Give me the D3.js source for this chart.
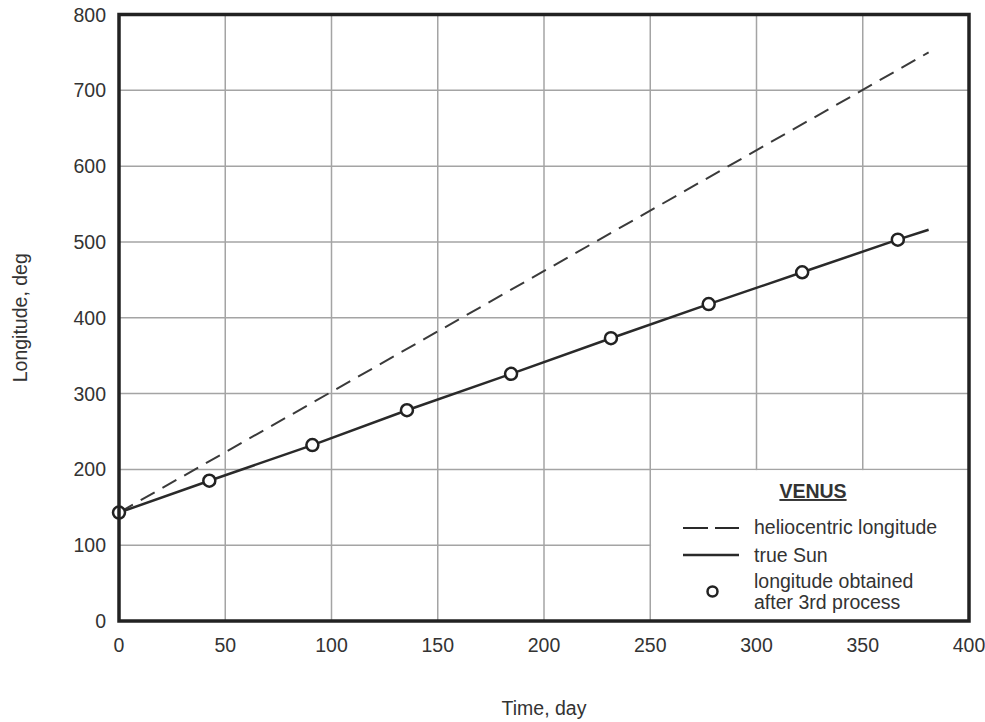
<!DOCTYPE html>
<html>
<head>
<meta charset="utf-8">
<script src="https://cdn.jsdelivr.net/npm/d3@7/dist/d3.min.js"></script>
<style>
  html, body { margin: 0; padding: 0; background: #fff; }
  svg { display: block; font-family: "Liberation Sans", Arial, sans-serif; }
</style>
</head>
<body>
<svg id="chart" width="985" height="722"></svg>
<script>
// ---- data ----
const xTicks = [0, 50, 100, 150, 200, 250, 300, 350, 400];
const yTicks = [0, 100, 200, 300, 400, 500, 600, 700, 800];

const obtainedDays = [0, 42.5, 91, 135.5, 184.5, 231.5, 277.5, 321.5, 366.5];
const obtainedLon  = [143, 185, 232, 278, 326, 373, 418, 460, 503];

const trueSunDays = [0, 42.5, 91, 135.5, 184.5, 231.5, 277.5, 321.5, 366.5, 381];
const trueSunLon  = [143, 185, 232, 278, 326, 373, 418, 460, 503, 516];

const helioDays = [0, 381];
const helioLon  = [143, 750];

const legendTitle = "VENUS";
const legendLabels = ["heliocentric longitude", "true Sun", "longitude obtained", "after 3rd process"];

(function () {
// ---- layout ----
const svg = d3.select("#chart");
const pL = 119, pR = 969, pT = 14.5, pB = 621;
const x = d3.scaleLinear().domain([0, 400]).range([pL, pR]);
const y = d3.scaleLinear().domain([0, 800]).range([pB, pT]);
const textColor = "#333";
const fs = 19.5;

// grid
const grid = svg.append("g");
grid.selectAll("line.v").data(xTicks.slice(1, -1)).join("line")
  .attr("x1", d => x(d)).attr("x2", d => x(d))
  .attr("y1", pT).attr("y2", pB)
  .attr("stroke", "#a4a4a4").attr("stroke-width", 1.5);
grid.selectAll("line.h").data(yTicks.slice(1, -1)).join("line")
  .attr("y1", d => y(d)).attr("y2", d => y(d))
  .attr("x1", pL).attr("x2", pR)
  .attr("stroke", "#a4a4a4").attr("stroke-width", 1.5);

// legend background covering grid
svg.append("rect")
  .attr("x", x(250) + 0.8).attr("y", y(200) + 0.8)
  .attr("width", x(400) - x(250)).attr("height", y(0) - y(200))
  .attr("fill", "#fff");

// lines
const line = d3.line().x(d => x(d[0])).y(d => y(d[1]));
svg.append("path")
  .datum(helioDays.map((d, i) => [d, helioLon[i]]))
  .attr("d", line).attr("fill", "none")
  .attr("stroke", "#3a3a3a").attr("stroke-width", 2)
  .attr("stroke-dasharray", "16,9");
svg.append("path")
  .datum(trueSunDays.map((d, i) => [d, trueSunLon[i]]))
  .attr("d", line).attr("fill", "none")
  .attr("stroke", "#2a2a2a").attr("stroke-width", 2.5);

// points
svg.selectAll("circle.pt").data(obtainedDays.map((d, i) => [d, obtainedLon[i]])).join("circle")
  .attr("cx", d => x(d[0])).attr("cy", d => y(d[1])).attr("r", 6)
  .attr("fill", "#fff").attr("stroke", "#222").attr("stroke-width", 2.5);

// frame
svg.append("rect")
  .attr("x", pL).attr("y", pT)
  .attr("width", pR - pL).attr("height", pB - pT)
  .attr("fill", "none").attr("stroke", "#222").attr("stroke-width", 3.5);

// tick labels
svg.selectAll("text.xt").data(xTicks).join("text")
  .attr("x", d => x(d)).attr("y", 652)
  .attr("text-anchor", "middle").attr("font-size", fs).attr("fill", textColor)
  .text(d => d);
svg.selectAll("text.yt").data(yTicks).join("text")
  .attr("x", 106).attr("y", d => y(d)).attr("dy", "0.36em")
  .attr("text-anchor", "end").attr("font-size", fs).attr("fill", textColor)
  .text(d => d);

// axis titles
svg.append("text")
  .attr("x", (pL + pR) / 2).attr("y", 715)
  .attr("text-anchor", "middle").attr("font-size", fs).attr("fill", textColor)
  .text("Time, day");
svg.append("text")
  .attr("transform", `translate(27, ${(pT + pB) / 2}) rotate(-90)`)
  .attr("text-anchor", "middle").attr("font-size", fs).attr("fill", textColor)
  .text("Longitude, deg");

// legend
const lg = svg.append("g");
lg.append("text")
  .attr("x", 813).attr("y", 498)
  .attr("text-anchor", "middle").attr("font-size", fs).attr("font-weight", "bold")
  .attr("fill", textColor).attr("text-decoration", "underline")
  .text(legendTitle);
lg.append("line")
  .attr("x1", 683).attr("x2", 739).attr("y1", 528).attr("y2", 528)
  .attr("stroke", "#2a2a2a").attr("stroke-width", 2).attr("stroke-dasharray", "25,7");
lg.append("line")
  .attr("x1", 683).attr("x2", 739).attr("y1", 555).attr("y2", 555)
  .attr("stroke", "#2a2a2a").attr("stroke-width", 2.5);
lg.append("circle")
  .attr("cx", 712.5).attr("cy", 591.5).attr("r", 5)
  .attr("fill", "#fff").attr("stroke", "#222").attr("stroke-width", 2.5);
const lys = [533.5, 561.5, 587.5, 608.5];
lg.selectAll("text.li").data(legendLabels).join("text")
  .attr("x", 754).attr("y", (d, i) => lys[i])
  .attr("font-size", fs).attr("fill", textColor)
  .text(d => d);
})();
</script>
</body>
</html>
